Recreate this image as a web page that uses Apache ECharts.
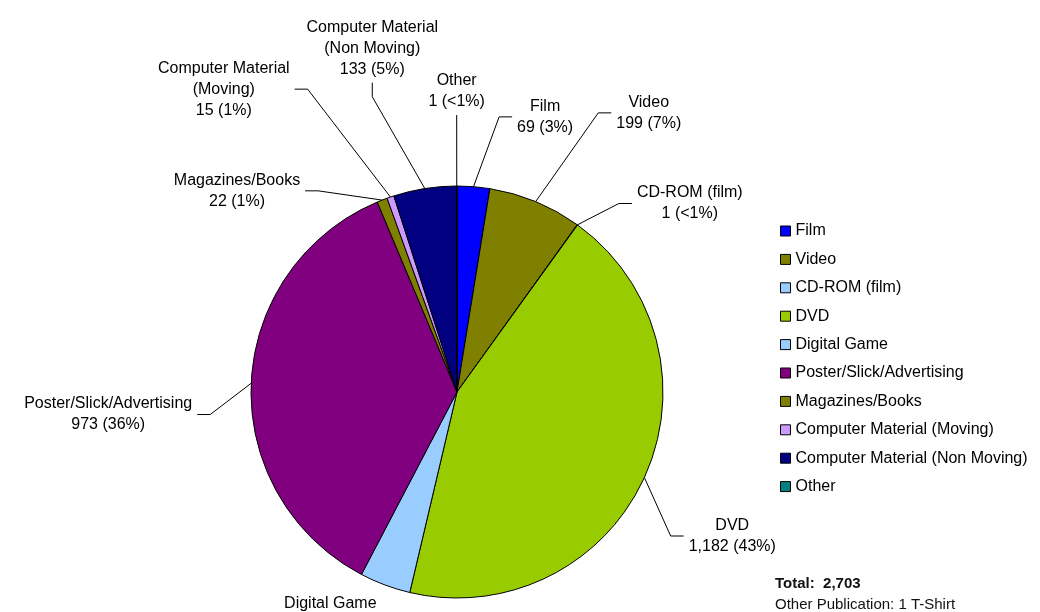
<!DOCTYPE html>
<html>
<head>
    <meta charset="utf-8">
    <title>Publications by type</title>
    <script src="https://cdn.jsdelivr.net/npm/echarts@6/dist/echarts.min.js"></script>
    <style>
        html, body { margin: 0; background: #fff; }
        #main { width: 1040px; height: 612px; }
    </style>
</head>
<body>
    <div id="main"></div>
    <script>
        // data
        var categories = ['Film', 'Video', 'CD-ROM (film)', 'DVD', 'Digital Game',
            'Poster/Slick/Advertising', 'Magazines/Books', 'Computer Material (Moving)',
            'Computer Material (Non Moving)', 'Other'];
        var counts = [69, 199, 1, 1182, 108, 973, 22, 15, 133, 1];
        var percentLabels = ['3%', '7%', '<1%', '43%', '4%', '36%', '1%', '1%', '5%', '<1%'];
        var colors = ['#0000ff', '#808000', '#99ccff', '#99cc00', '#99ccff',
            '#800080', '#808000', '#cc99ff', '#000080', '#008080'];
        var total = 2703;
        var noteText = 'Other Publication: 1 T-Shirt';

        // leader line settings per slice: radial length, horizontal length, extra shift, mode
        var labelCfg = [
            { len: 70, len2: 33 },
            { len: 96, len2: 39 },
            { len: 30, len2: 37, dy: 3 },
            { len: 30, len2: 12, dy: 46 },
            { len: 10, len2: 0, dy: 20, noLine: true },
            { len: 41, len2: 13, dy: 33 },
            { len: 11, len2: 73, dy: 1 },
            { len: 114, len2: 59 },
            { len: 93, len2: 38, mode: 'above', rise: 14 },
            { len: 71, len2: 0, mode: 'above', rise: 0 }
        ];
        var KNEE = 13;
        var FONT = 'Liberation Sans, Arial, sans-serif';

        var chart = echarts.init(document.getElementById('main'));

        var pieData = categories.map(function (name, i) {
            var c = labelCfg[i];
            return {
                name: name,
                value: counts[i],
                itemStyle: { color: colors[i] },
                labelLine: { show: !c.noLine, length: c.len, length2: c.len2 }
            };
        });

        var option = {
            animation: false,
            backgroundColor: '#fff',
            legend: {
                orient: 'vertical',
                left: 775,
                top: 218,
                itemWidth: 10,
                itemHeight: 10,
                itemGap: 12.4,
                icon: 'rect',
                selectedMode: false,
                itemStyle: { borderColor: '#000', borderWidth: 1 },
                textStyle: { fontFamily: FONT, fontSize: 16, lineHeight: 16, color: '#000' },
                data: categories
            },
            graphic: [
                {
                    type: 'text', left: 775, top: 576,
                    style: { text: 'Total:  ' + total.toLocaleString('en-US'), font: 'bold 15px ' + FONT, fill: '#111' }
                },
                {
                    type: 'text', left: 775, top: 597,
                    style: { text: noteText, font: '15px ' + FONT, fill: '#111' }
                }
            ],
            series: [
                {
                    type: 'pie',
                    center: [457, 392],
                    radius: 206,
                    startAngle: 90,
                    clockwise: true,
                    avoidLabelOverlap: false,
                    itemStyle: { borderColor: '#000', borderWidth: 1 },
                    emphasis: { disabled: true },
                    label: {
                        show: true,
                        position: 'outside',
                        fontFamily: FONT,
                        fontSize: 16,
                        lineHeight: 21,
                        color: '#000',
                        formatter: function (p) {
                            var name = p.name.replace(/^(Computer Material) /, '$1\n');
                            return name + '\n' + p.value.toLocaleString('en-US') +
                                ' (' + percentLabels[p.dataIndex] + ')';
                        }
                    },
                    labelLine: { lineStyle: { color: '#000', width: 1 } },
                    labelLayout: function (p) {
                        var c = labelCfg[p.dataIndex];
                        var pts = p.labelLinePoints;
                        var r = p.labelRect;
                        var dy = c.dy || 0;
                        if (!pts) {
                            return { x: r.x + r.width / 2, y: r.y + r.height / 2 + dy, align: 'center', verticalAlign: 'middle' };
                        }
                        var p0 = pts[0], p2 = pts[2];
                        if (c.mode === 'above') {
                            var top = [p2[0], p2[1] - c.rise];
                            return {
                                x: top[0], y: top[1] - 3,
                                align: 'center', verticalAlign: 'bottom',
                                labelLinePoints: [p0, p2, top]
                            };
                        }
                        var end = [p2[0], p2[1] + dy];
                        var side = p2[0] >= pts[1][0] ? 1 : -1;
                        var knee = [end[0] - side * KNEE, end[1]];
                        return {
                            x: r.x + r.width / 2, y: r.y + r.height / 2 + dy,
                            align: 'center', verticalAlign: 'middle',
                            labelLinePoints: [p0, knee, end]
                        };
                    },
                    data: pieData
                }
            ]
        };

        chart.setOption(option);
    </script>
</body>
</html>
